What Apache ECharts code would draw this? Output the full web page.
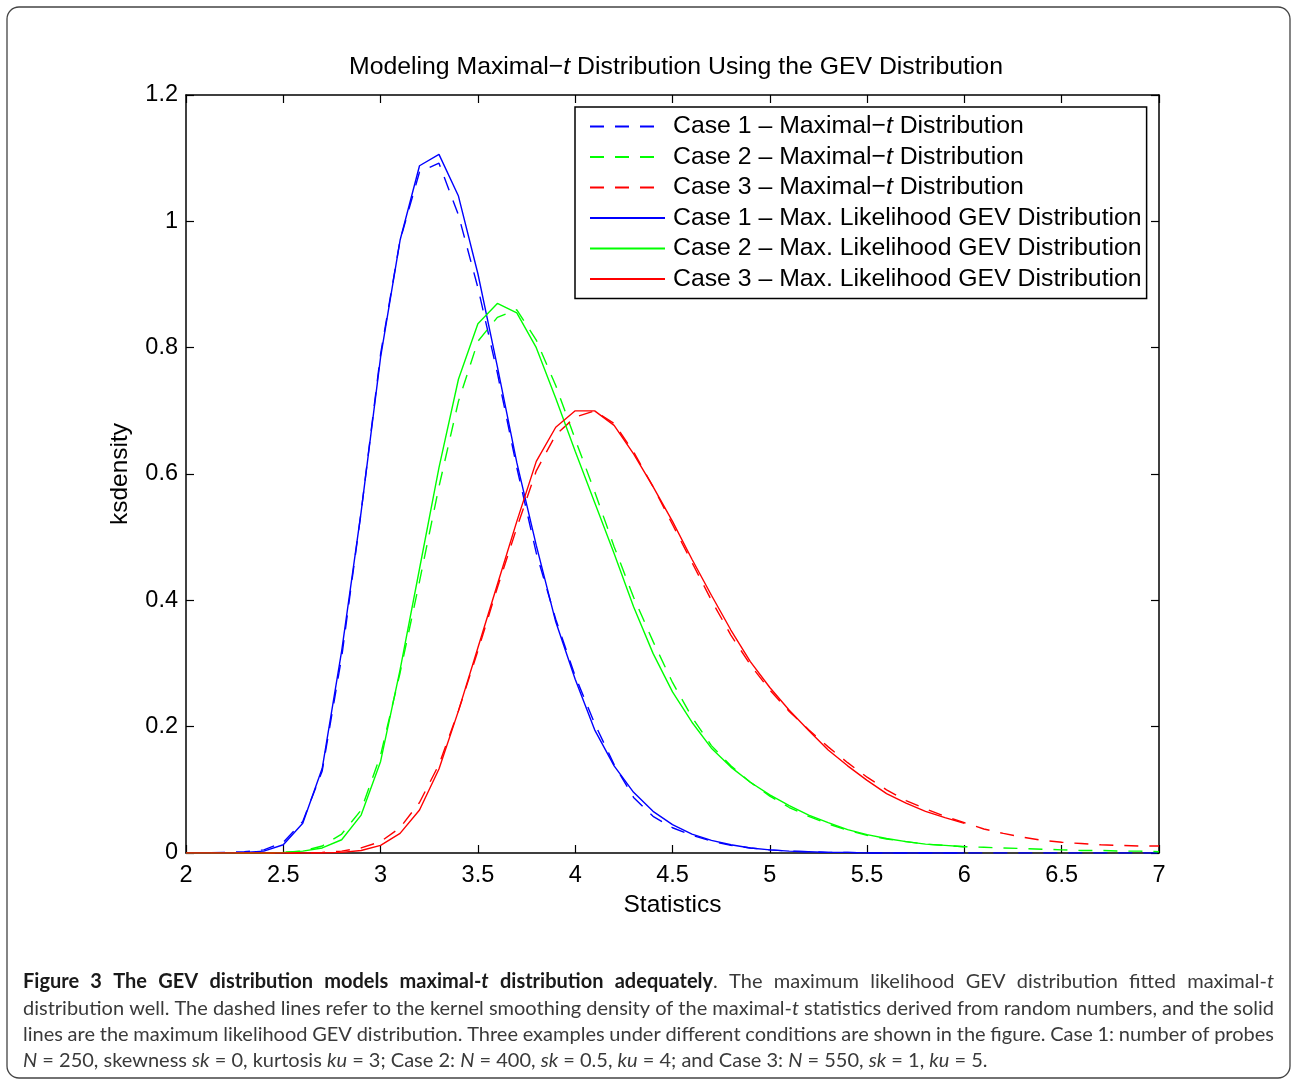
<!DOCTYPE html>
<html>
<head>
<meta charset="utf-8">
<script src="https://cdn.jsdelivr.net/npm/echarts@6/dist/echarts.min.js"></script>
<style>
html, body { margin: 0; padding: 0; background: #fff; }
#chart { width: 1292px; height: 1081px; }
</style>
</head>
<body>
<div id="chart"></div>
<script>
// x grid of the curves (step 0.1)
var xValues = [2.0, 2.1, 2.2, 2.3, 2.4, 2.5, 2.6, 2.7, 2.8, 2.9,
    3.0, 3.1, 3.2, 3.3, 3.4, 3.5, 3.6, 3.7, 3.8, 3.9,
    4.0, 4.1, 4.2, 4.3, 4.4, 4.5, 4.6, 4.7, 4.8, 4.9,
    5.0, 5.1, 5.2, 5.3, 5.4, 5.5, 5.6, 5.7, 5.8, 5.9,
    6.0, 6.1, 6.2, 6.3, 6.4, 6.5, 6.6, 6.7, 6.8, 6.9, 7.0];

// kernel smoothing density of maximal-t (dashed, 2..7)
var case1Kernel = [0, 0, 0.001, 0.002, 0.005, 0.017, 0.05, 0.13, 0.31, 0.54,
    0.79, 0.97, 1.078, 1.092, 1.01, 0.895, 0.76, 0.61, 0.475, 0.37,
    0.28, 0.205, 0.14, 0.088, 0.058, 0.04, 0.028, 0.019, 0.012, 0.008,
    0.005, 0.003, 0.002, 0.001, 0.001, 0, 0, 0, 0, 0,
    0, 0, 0, 0, 0, 0, 0, 0, 0, 0, 0];
var case2Kernel = [0, 0, 0, 0, 0, 0.001, 0.003, 0.011, 0.03, 0.068,
    0.155, 0.285, 0.43, 0.58, 0.715, 0.81, 0.848, 0.86, 0.812, 0.74,
    0.655, 0.572, 0.485, 0.405, 0.335, 0.27, 0.215, 0.17, 0.138, 0.112,
    0.09, 0.072, 0.058, 0.046, 0.036, 0.028, 0.022, 0.018, 0.014, 0.012,
    0.01, 0.009, 0.008, 0.007, 0.006, 0.005, 0.004, 0.004, 0.003, 0.003, 0.002];
var case3Kernel = [0, 0, 0, 0, 0, 0, 0, 0.001, 0.003, 0.008,
    0.018, 0.04, 0.08, 0.14, 0.225, 0.32, 0.42, 0.515, 0.605, 0.662,
    0.69, 0.70, 0.68, 0.635, 0.58, 0.52, 0.46, 0.40, 0.345, 0.298,
    0.258, 0.224, 0.195, 0.168, 0.143, 0.12, 0.1, 0.083, 0.07, 0.058,
    0.048, 0.038, 0.031, 0.025, 0.02, 0.017, 0.015, 0.013, 0.012, 0.011, 0.011];

// maximum likelihood GEV density (solid, 2..6)
var case1Gev = [0, 0, 0, 0.001, 0.003, 0.013, 0.047, 0.134, 0.32, 0.54,
    0.785, 0.97, 1.088, 1.106, 1.04, 0.917, 0.77, 0.618, 0.487, 0.366,
    0.275, 0.195, 0.138, 0.096, 0.066, 0.045, 0.03, 0.02, 0.013, 0.008,
    0.005, 0.003, 0.002, 0.001, 0.001, 0, 0, 0, 0, 0, 0];
var case2Gev = [0, 0, 0, 0, 0, 0.001, 0.003, 0.008, 0.021, 0.06,
    0.145, 0.29, 0.45, 0.61, 0.75, 0.838, 0.87, 0.855, 0.80, 0.72,
    0.636, 0.555, 0.474, 0.39, 0.316, 0.255, 0.207, 0.166, 0.136, 0.112,
    0.092, 0.075, 0.06, 0.048, 0.037, 0.029, 0.023, 0.018, 0.014, 0.012, 0.010];
var case3Gev = [0, 0, 0, 0, 0, 0, 0, 0, 0.001, 0.004,
    0.012, 0.031, 0.068, 0.133, 0.225, 0.325, 0.425, 0.525, 0.62, 0.674,
    0.70, 0.70, 0.677, 0.632, 0.58, 0.525, 0.465, 0.408, 0.353, 0.303,
    0.262, 0.226, 0.194, 0.163, 0.138, 0.115, 0.094, 0.079, 0.066, 0.056, 0.047];

var seriesNames = [
    'Case 1 – Maximal−t Distribution',
    'Case 2 – Maximal−t Distribution',
    'Case 3 – Maximal−t Distribution',
    'Case 1 – Max. Likelihood GEV Distribution',
    'Case 2 – Max. Likelihood GEV Distribution',
    'Case 3 – Max. Likelihood GEV Distribution'
];
var seriesColors = ['#0000ff', '#00ff00', '#ff0000'];

var font = 'Liberation Sans, Arial, sans-serif';

function pairs(ys) {
    return ys.map(function (y, i) {
        return [xValues[i], y];
    });
}

function lineSeries(name, ys, color, dashed) {
    return {
        name: name,
        type: 'line',
        data: pairs(ys),
        symbol: 'none',
        smooth: false,
        animation: false,
        itemStyle: { color: color },
        lineStyle: { color: color, width: 1.4, type: dashed ? [14, 11] : 'solid' }
    };
}

// caption, one entry per line: [style, text]
var captionLines = [
    [['b', 'Figure 3 The GEV distribution models maximal-'], ['bi', 't'], ['b', ' distribution adequately'],
        ['n', '. The maximum likelihood GEV distribution fitted maximal-'], ['i', 't']],
    [['n', 'distribution well. The dashed lines refer to the kernel smoothing density of the maximal-'], ['i', 't'],
        ['n', ' statistics derived from random numbers, and the solid']],
    [['n', 'lines are the maximum likelihood GEV distribution. Three examples under different conditions are shown in the figure. Case 1: number of probes']],
    [['i', 'N'], ['n', ' = 250, skewness '], ['i', 'sk'], ['n', ' = 0, kurtosis '], ['i', 'ku'], ['n', ' = 3; Case 2: '],
        ['i', 'N'], ['n', ' = 400, '], ['i', 'sk'], ['n', ' = 0.5, '], ['i', 'ku'], ['n', ' = 4; and Case 3: '],
        ['i', 'N'], ['n', ' = 550, '], ['i', 'sk'], ['n', ' = 1, '], ['i', 'ku'], ['n', ' = 5.']]
];
var captionJustify = [true, true, true, false];
var captionY = [982, 1009, 1035, 1061];

var capFamily = 'Lato';
var capSize = 20;
var measureCtx = document.createElement('canvas').getContext('2d');
function capStyle(code) {
    return {
        fontWeight: code.indexOf('b') >= 0 ? 'bold' : 'normal',
        fontStyle: code.indexOf('i') >= 0 ? 'italic' : 'normal'
    };
}
function measure(code, text) {
    var s = capStyle(code);
    measureCtx.font = s.fontStyle + ' ' + s.fontWeight + ' ' + capSize + 'px ' + capFamily;
    return measureCtx.measureText(text).width;
}

function buildCaption() {
    var out = [];
    var left = 23, right = 1274;
    captionLines.forEach(function (line, li) {
        // split into words (a word may hold runs of several styles)
        var words = [[]];
        line.forEach(function (seg) {
            var parts = seg[1].split(' ');
            parts.forEach(function (p, k) {
                if (k > 0) words.push([]);
                if (p.length) words[words.length - 1].push([seg[0], p]);
            });
        });
        words = words.filter(function (w) { return w.length; });
        var widths = words.map(function (w) {
            return w.reduce(function (a, r) { return a + measure(r[0], r[1]); }, 0);
        });
        var total = widths.reduce(function (a, b) { return a + b; }, 0);
        var gap = captionJustify[li] ? (right - left - total) / (words.length - 1) : measure('n', ' ');
        var x = left;
        words.forEach(function (w, wi) {
            var rx = x;
            w.forEach(function (r) {
                var s = capStyle(r[0]);
                out.push({
                    type: 'text',
                    x: rx,
                    y: captionY[li],
                    silent: true,
                    style: {
                        text: r[1],
                        fontFamily: capFamily,
                        fontSize: capSize,
                        fontWeight: s.fontWeight,
                        fontStyle: s.fontStyle,
                        fill: r[0].indexOf('b') >= 0 ? '#1a1a1a' : '#3a3a3a',
                        verticalAlign: 'middle',
                        align: 'left'
                    }
                });
                rx += measure(r[0], r[1]);
            });
            x += widths[wi] + gap;
        });
    });
    return out;
}

var chart = echarts.init(document.getElementById('chart'), null, { renderer: 'canvas' });

var graphics = [{
    type: 'rect',
    silent: true,
    z: -10,
    shape: { x: 7, y: 7, width: 1283, height: 1071, r: 12 },
    style: { fill: 'none', stroke: '#444', lineWidth: 1.3 }
}].concat(buildCaption());

var axisBase = {
    type: 'value',
    axisLine: { show: true, onZero: false, lineStyle: { color: '#000', width: 1.5 } },
    axisTick: { show: true, inside: true, length: 8, lineStyle: { color: '#000', width: 1.2 } },
    splitLine: { show: false }
};

chart.setOption({
    backgroundColor: '#fff',
    animation: false,
    title: {
        text: 'Modeling Maximal−{it|t} Distribution Using the GEV Distribution',
        left: 344,
        top: 50,
        textStyle: {
            fontFamily: font,
            fontSize: 24.8,
            fontWeight: 'normal',
            color: '#000',
            rich: {
                it: { fontFamily: font, fontSize: 24.8, fontStyle: 'italic', color: '#000' }
            }
        }
    },
    legend: {
        orient: 'vertical',
        left: 575,
        top: 107,
        padding: [7, 5, 7, 14],
        itemWidth: 75,
        itemHeight: 14,
        itemGap: 5.5,
        borderColor: '#000',
        borderWidth: 1.5,
        backgroundColor: '#fff',
        selectedMode: false,
        itemStyle: { opacity: 0 },
        data: seriesNames,
        formatter: function (name) {
            return name.replace('−t', '−{it|t}');
        },
        textStyle: {
            fontFamily: font,
            fontSize: 24.8,
            lineHeight: 24,
            color: '#000',
            padding: [0, 0, 0, 3],
            rich: {
                it: { fontFamily: font, fontSize: 24.8, lineHeight: 24, fontStyle: 'italic', color: '#000' }
            }
        }
    },
    grid: { left: 186, right: 133, top: 95, bottom: 228, containLabel: false },
    xAxis: [
        Object.assign({}, axisBase, {
            position: 'bottom',
            min: 2, max: 7, interval: 0.5,
            axisLabel: { color: '#000', fontFamily: font, fontSize: 23.5, margin: 11 },
            name: 'Statistics',
            nameLocation: 'middle',
            nameGap: 38,
            nameTextStyle: { color: '#000', fontFamily: font, fontSize: 24.5 }
        }),
        Object.assign({}, axisBase, {
            position: 'top',
            min: 2, max: 7, interval: 0.5,
            axisLabel: { show: false }
        })
    ],
    yAxis: [
        Object.assign({}, axisBase, {
            position: 'left',
            min: 0, max: 1.2, interval: 0.2,
            axisLabel: { color: '#000', fontFamily: font, fontSize: 23.5, margin: 8 },
            name: 'ksdensity',
            nameLocation: 'middle',
            nameGap: 53,
            nameTextStyle: { color: '#000', fontFamily: font, fontSize: 24.5 }
        }),
        Object.assign({}, axisBase, {
            position: 'right',
            min: 0, max: 1.2, interval: 0.2,
            axisLabel: { show: false }
        })
    ],
    graphic: graphics,
    series: [
        lineSeries(seriesNames[0], case1Kernel, seriesColors[0], true),
        lineSeries(seriesNames[1], case2Kernel, seriesColors[1], true),
        lineSeries(seriesNames[2], case3Kernel, seriesColors[2], true),
        lineSeries(seriesNames[3], case1Gev, seriesColors[0], false),
        lineSeries(seriesNames[4], case2Gev, seriesColors[1], false),
        lineSeries(seriesNames[5], case3Gev, seriesColors[2], false)
    ]
});
</script>
</body>
</html>
